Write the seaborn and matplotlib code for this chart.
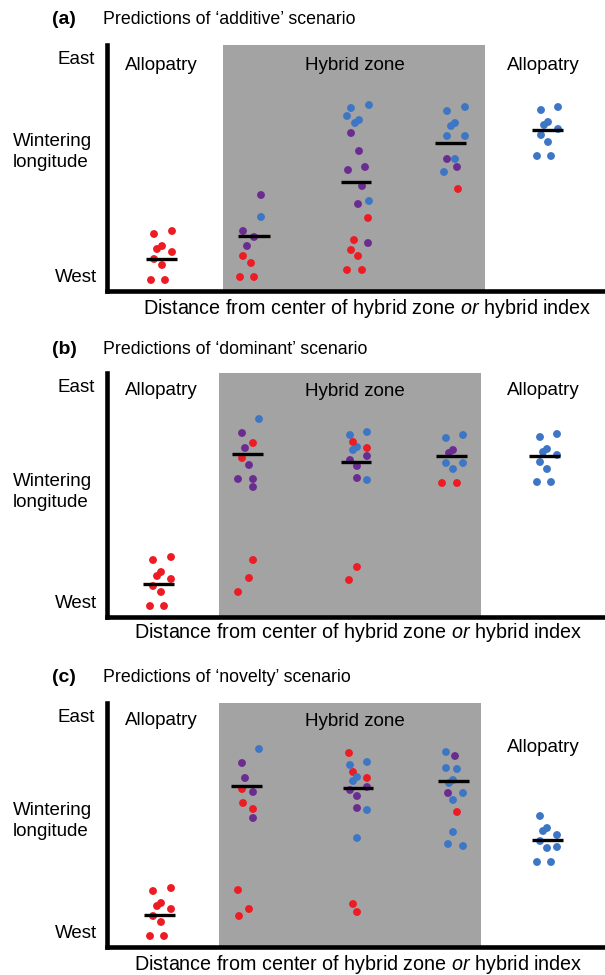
import matplotlib.pyplot as plt
import pandas as pd
import seaborn as sns

# individual birds
# x = position along the transect, y = wintering longitude (arbitrary units, 0 = axes corner)
# type: W = western parental (red), H = intermediate (purple), E = eastern parental (blue)
a_x = [47, 65, 55, 50, 65, 47, 55, 44, 58,
       154, 136, 147, 140, 154, 136, 144, 133, 147,
       244, 262, 240, 252, 248, 262, 244, 252, 258, 241, 255, 251, 261, 261, 247, 244, 251, 240, 255,
       340, 358, 344, 348, 340, 358, 348, 337, 340, 350, 351,
       434, 451, 437, 441, 451, 434, 441, 430, 444]
a_y = [57, 60, 45, 42, 39, 32, 26, 11, 11,
       96, 60, 54, 45, 74, 35, 28, 14, 14,
       183, 186, 175, 171, 168, 90, 158, 140, 124, 121, 105, 87, 48, 73, 51, 41, 35, 21, 21,
       180, 184, 165, 168, 155, 155, 132, 119, 132, 124, 102,
       181, 184, 166, 169, 162, 156, 149, 135, 135]
a_type = list("WWWWWWWWW" "HHHHEWWWW" "EEEEEEHHHHHHHWWWWWW" "EEEEEEEEHHW" "EEEEEEEEE")
a_mean_x = [54, 147, 249, 344, 440]
a_mean_y = [32, 55, 109, 148, 161]

b_x = [46, 64, 54, 50, 64, 46, 54, 43, 57,
       152, 135, 138, 142, 131, 146, 146, 146, 135, 146, 142, 131,
       243, 260, 250, 246, 260, 246, 260, 250, 242, 260, 243, 250, 250,
       339, 356, 339, 356, 346, 346, 342, 335, 350,
       433, 450, 440, 436, 450, 433, 440, 430, 444]
b_y = [57, 60, 45, 41, 38, 31, 25, 11, 11,
       198, 184, 169, 152, 138, 138, 130, 174, 159, 57, 39, 25,
       182, 185, 170, 167, 137, 175, 169, 50, 37, 161, 157, 151, 139,
       179, 182, 154, 154, 148, 167, 164, 134, 134,
       180, 183, 168, 165, 162, 155, 148, 135, 135]
b_type = list("WWWWWWWWW" "EHHHHHHWWWWW" "EEEEEWWWWHHHH" "EEEEEHHWW" "EEEEEEEEE")
b_mean_x = [51, 140, 249, 345, 437]
b_mean_y = [33, 163, 155, 161, 161]

c_x = [46, 64, 54, 50, 64, 46, 54, 43, 57,
       152, 135, 138, 146, 146, 135, 136, 146, 131, 142, 132,
       242, 246, 260, 246, 250, 243, 260, 250, 246, 260, 250, 260, 243, 250, 250,
       339, 339, 350, 346, 342, 356, 346, 346, 341, 356, 348, 341, 350,
       433, 440, 436, 450, 433, 440, 450, 430, 444]
c_y = [56, 59, 44, 41, 38, 31, 25, 11, 11,
       198, 184, 169, 155, 129, 158, 144, 138, 57, 38, 31,
       194, 175, 169, 43, 35, 182, 185, 170, 166, 137, 109, 160, 157, 151, 139,
       195, 179, 178, 167, 164, 154, 147, 115, 103, 101, 191, 154, 135,
       131, 119, 116, 112, 106, 99, 100, 85, 85]
c_type = list("WWWWWWWWW" "EHHHHWWWWWW" "WWWWWEEEEEEHHHH" "EEEEEEEEEEHHW" "EEEEEEEEE")
c_mean_x = [52, 139, 251, 347, 440]
c_mean_y = [32, 161, 159, 166, 107]

letters = ["(a)", "(b)", "(c)"]
titles = ["Predictions of \u2018additive\u2019 scenario",
          "Predictions of \u2018dominant\u2019 scenario",
          "Predictions of \u2018novelty\u2019 scenario"]
hybrid_zone = [(116, 378), (112, 374), (112, 374)]

palette = {"W": "#ED1C24", "H": "#6A2C90", "E": "#3E76C6"}

sns.set_style("white")
plt.rcParams["font.family"] = ["Liberation Sans", "DejaVu Sans"]
plt.rcParams["text.color"] = "black"
plt.rcParams["mathtext.fontset"] = "custom"
plt.rcParams["mathtext.rm"] = "Liberation Sans"
plt.rcParams["mathtext.it"] = "Liberation Sans:italic"

W, H = 605, 975
fig = plt.figure(figsize=(W / 100, H / 100), dpi=100)


def fx(px):
    return px / W


def fy(py):
    return 1 - py / H


# pixel layout of each panel: axes bottom, axes top, title row, x label row, label x-centre
panels = [
    dict(x=a_x, y=a_y, t=a_type, mx=a_mean_x, my=a_mean_y, bottom=291, top=45,
         title_y=20, east_y=60, wint_y=152, west_y=277, xlab_y=309, xlab_x=367,
         right_allo_y=226),
    dict(x=b_x, y=b_y, t=b_type, mx=b_mean_x, my=b_mean_y, bottom=617, top=373,
         title_y=350, east_y=388, wint_y=492, west_y=603, xlab_y=633, xlab_x=358,
         right_allo_y=226),
    dict(x=c_x, y=c_y, t=c_type, mx=c_mean_x, my=c_mean_y, bottom=947, top=703,
         title_y=678, east_y=718, wint_y=821, west_y=933, xlab_y=965, xlab_x=358,
         right_allo_y=199),
]

left = 107
for i, p in enumerate(panels):
    h = p["bottom"] - p["top"]
    ax = fig.add_axes([fx(left), fy(p["bottom"]), (W - left) / W, h / H])
    ax.set_xlim(0, W - left)
    ax.set_ylim(0, h)
    ax.axvspan(*hybrid_zone[i], color="#A3A3A3", lw=0, zorder=0)

    df = pd.DataFrame({"x": p["x"], "y": p["y"], "type": p["t"]})
    sns.scatterplot(data=df, x="x", y="y", hue="type", palette=palette,
                    s=32, edgecolor="none", linewidth=0, legend=False,
                    ax=ax, zorder=3)
    for mx, my in zip(p["mx"], p["my"]):
        ax.plot([mx - 15.5, mx + 15.5], [my, my], color="black", lw=2.4,
                solid_capstyle="butt", zorder=4)

    ax.text(54, 226, "Allopatry", ha="center", va="center", fontsize=13.5)
    ax.text(248, 225, "Hybrid zone", ha="center", va="center", fontsize=13.5)
    ax.text(436, p["right_allo_y"], "Allopatry", ha="center", va="center",
            fontsize=13.5)

    ax.set_xticks([])
    ax.set_yticks([])
    ax.set_xlabel("")
    ax.set_ylabel("")
    sns.despine(ax=ax)
    for side in ["left", "bottom"]:
        ax.spines[side].set_linewidth(3.3)
        ax.spines[side].set_color("black")
        ax.spines[side].set_capstyle("projecting")

    fig.text(fx(52), fy(p["title_y"]), letters[i], fontweight="bold",
             fontsize=14, va="center")
    fig.text(fx(103), fy(p["title_y"]), titles[i], fontsize=12.8, va="center")
    fig.text(fx(95), fy(p["east_y"]), "East", ha="right", va="center",
             fontsize=13.5)
    fig.text(fx(13), fy(p["wint_y"]), "Wintering\nlongitude", ha="left",
             va="center", fontsize=13.5, linespacing=1.25)
    fig.text(fx(97), fy(p["west_y"]), "West", ha="right", va="center",
             fontsize=13.5)
    fig.text(fx(p["xlab_x"]), fy(p["xlab_y"]),
             "Distance from center of hybrid zone $\\it{or}$ hybrid index",
             ha="center", va="center", fontsize=14.2)

fig.savefig("out.png", dpi=100)
